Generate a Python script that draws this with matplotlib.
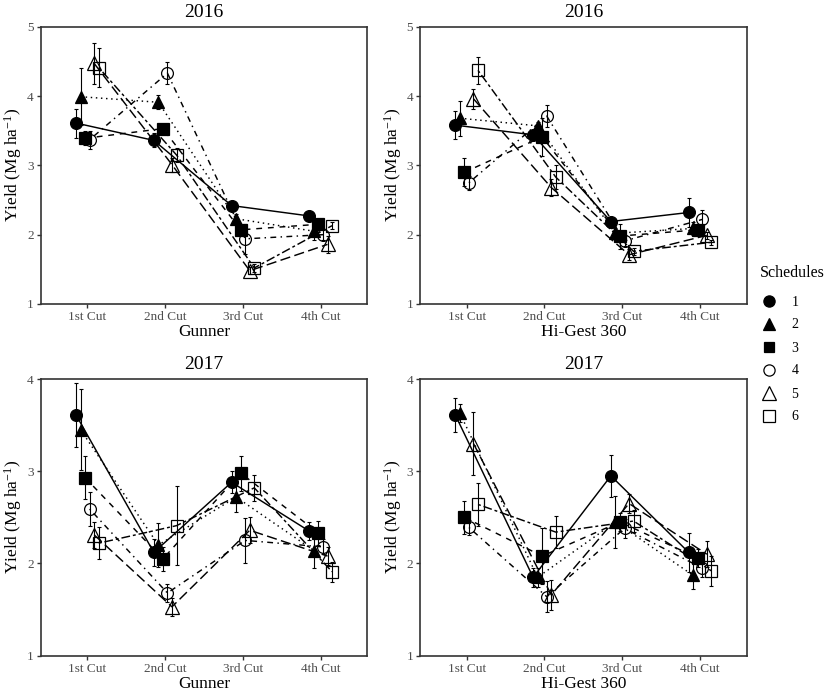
import matplotlib
matplotlib.use("Agg")
import matplotlib.pyplot as plt
from matplotlib.lines import Line2D
import numpy as np

plt.rcParams['font.family'] = ['Liberation Serif', 'DejaVu Serif']
plt.rcParams['mathtext.fontset'] = 'custom'
plt.rcParams['mathtext.rm'] = 'Liberation Serif'
plt.rcParams['mathtext.it'] = 'Liberation Serif:italic'

cuts = ["1st Cut", "2nd Cut", "3rd Cut", "4th Cut"]
schedules = ["1", "2", "3", "4", "5", "6"]

# mean yields per schedule (rows) and cut (columns)
gunner_2016 = [
    [3.61, 3.36, 2.42, 2.27],
    [3.99, 3.91, 2.23, 2.05],
    [3.39, 3.53, 2.07, 2.15],
    [3.37, 4.33, 1.94, 2.00],
    [4.47, 3.01, 1.48, 1.86],
    [4.41, 3.15, 1.52, 2.13],
]
gunner_2016_se = [
    [0.21, 0.10, 0.05, 0.04],
    [0.41, 0.10, 0.07, 0.12],
    [0.10, 0.05, 0.06, 0.06],
    [0.13, 0.16, 0.22, 0.08],
    [0.30, 0.10, 0.05, 0.12],
    [0.28, 0.10, 0.06, 0.05],
]
higest_2016 = [
    [3.58, 3.44, 2.19, 2.32],
    [3.68, 3.57, 2.02, 2.09],
    [2.90, 3.41, 1.98, 2.07],
    [2.75, 3.71, 1.91, 2.22],
    [3.96, 2.68, 1.71, 1.99],
    [4.37, 2.83, 1.76, 1.89],
]
higest_2016_se = [
    [0.20, 0.05, 0.05, 0.21],
    [0.25, 0.05, 0.05, 0.10],
    [0.20, 0.28, 0.18, 0.06],
    [0.10, 0.16, 0.08, 0.13],
    [0.14, 0.12, 0.08, 0.05],
    [0.20, 0.17, 0.05, 0.04],
]
gunner_2017 = [
    [3.61, 2.12, 2.88, 2.35],
    [3.45, 2.20, 2.72, 2.14],
    [2.93, 2.05, 2.98, 2.33],
    [2.59, 1.68, 2.25, 2.18],
    [2.31, 1.53, 2.36, 2.08],
    [2.22, 2.41, 2.82, 1.91],
]
gunner_2017_se = [
    [0.35, 0.15, 0.12, 0.10],
    [0.44, 0.24, 0.16, 0.19],
    [0.23, 0.13, 0.19, 0.13],
    [0.18, 0.10, 0.24, 0.08],
    [0.14, 0.10, 0.14, 0.10],
    [0.17, 0.43, 0.14, 0.11],
]
higest_2017 = [
    [3.61, 1.85, 2.95, 2.12],
    [3.63, 1.85, 2.45, 1.87],
    [2.50, 2.08, 2.45, 2.06],
    [2.39, 1.64, 2.38, 1.95],
    [3.30, 1.66, 2.65, 2.10],
    [2.64, 2.34, 2.46, 1.92],
]
higest_2017_se = [
    [0.18, 0.10, 0.23, 0.21],
    [0.10, 0.10, 0.28, 0.15],
    [0.18, 0.30, 0.10, 0.10],
    [0.08, 0.17, 0.10, 0.10],
    [0.34, 0.16, 0.10, 0.14],
    [0.23, 0.17, 0.12, 0.16],
]

markers = ['o', '^', 's', 'o', '^', 's']
filled = [True, True, True, False, False, False]
linestyles = ['-', (0, (1, 2.5)), (0, (4, 4)), (0, (1, 3, 4, 3)), (0, (7, 3)), (0, (2, 2, 6, 2))]
msizes = [8.5, 9, 8, 8.5, 10, 8.5]

fig = plt.figure(figsize=(8.27, 6.92), dpi=100)
W, H = 827, 692

def add_ax(l, r, t, b):
    return fig.add_axes([l / W, 1 - b / H, (r - l) / W, (b - t) / H])

panels = [
    (add_ax(40.7, 367.4, 26.7, 304), gunner_2016, gunner_2016_se, "2016", "Gunner", (1, 5)),
    (add_ax(420, 746.7, 26.7, 304), higest_2016, higest_2016_se, "2016", "Hi-Gest 360", (1, 5)),
    (add_ax(40.7, 367.4, 379, 655.7), gunner_2017, gunner_2017_se, "2017", "Gunner", (1, 4)),
    (add_ax(420, 746.7, 379, 655.7), higest_2017, higest_2017_se, "2017", "Hi-Gest 360", (1, 4)),
]

dodge = 0.35
xbase = np.arange(1, len(cuts) + 1)
for ax, means, ses, title, xlabel, ylim in panels:
    for i in range(len(schedules)):
        x = xbase + (i - (len(schedules) - 1) / 2) * dodge / len(schedules)
        ax.errorbar(x, means[i], yerr=ses[i], fmt='none', ecolor='black',
                    elinewidth=0.8, capsize=1.3, capthick=0.8, zorder=2)
        ax.plot(x, means[i], color='black', lw=1.05, linestyle=linestyles[i], zorder=3)
        ax.plot(x, means[i], linestyle='none', marker=markers[i], markersize=msizes[i],
                markerfacecolor='black' if filled[i] else 'none',
                markeredgecolor='black', markeredgewidth=0.9, zorder=4)
    ax.set_xlim(0.4, 4.6)
    ax.set_ylim(*ylim)
    ax.set_xticks(xbase)
    ax.set_xticklabels(cuts)
    ax.set_yticks(np.arange(ylim[0], ylim[1] + 1))
    for s in ax.spines.values():
        s.set_color('#333333')
        s.set_linewidth(1.2)
    ax.tick_params(direction='out', length=3, width=1, color='#333333',
                   labelcolor='#4D4D4D', labelsize=9.5, pad=2)
    ax.set_title(title, fontsize=14, pad=7)
    ax.set_xlabel(xlabel, fontsize=12.5, labelpad=1)
    ax.set_ylabel('Yield (Mg ha$^{-1}$)', fontsize=12.5, labelpad=2)

fig.text(760 / W, 1 - 273 / H, 'Schedules', fontsize=11.5, ha='left', va='center')
handles = [Line2D([], [], linestyle='none', marker=markers[i], markersize=msizes[i] * 0.95,
                  markerfacecolor='black' if filled[i] else 'none',
                  markeredgecolor='black', markeredgewidth=0.9) for i in range(len(schedules))]
leg = fig.legend(handles, schedules, loc='upper left',
                 bbox_to_anchor=(747 / W, 1 - 283 / H), frameon=False,
                 fontsize=10, handlelength=1.4,
                 handletextpad=0.9, labelspacing=0.72)

fig.savefig('out.png', dpi=100, facecolor='white')
